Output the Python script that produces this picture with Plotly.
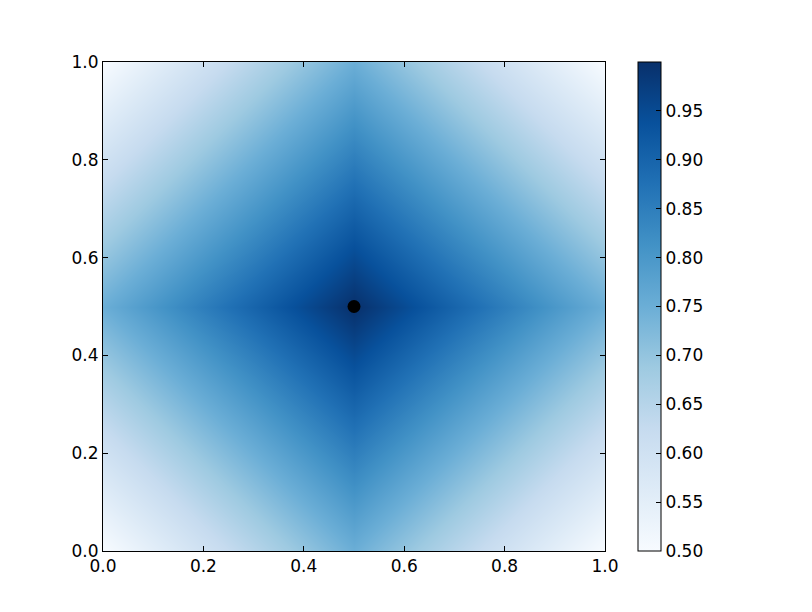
import plotly.graph_objects as go

# grid coordinates
xs = [0.0, 0.1, 0.2, 0.3, 0.4, 0.5, 0.6, 0.7, 0.8, 0.9, 1.0]
ys = [0.0, 0.1, 0.2, 0.3, 0.4, 0.5, 0.6, 0.7, 0.8, 0.9, 1.0]

row_00 = [0.50, 0.55, 0.60, 0.65, 0.70, 0.75, 0.70, 0.65, 0.60, 0.55, 0.50]
row_01 = [0.55, 0.60, 0.65, 0.70, 0.75, 0.80, 0.75, 0.70, 0.65, 0.60, 0.55]
row_02 = [0.60, 0.65, 0.70, 0.75, 0.80, 0.85, 0.80, 0.75, 0.70, 0.65, 0.60]
row_03 = [0.65, 0.70, 0.75, 0.80, 0.85, 0.90, 0.85, 0.80, 0.75, 0.70, 0.65]
row_04 = [0.70, 0.75, 0.80, 0.85, 0.90, 0.95, 0.90, 0.85, 0.80, 0.75, 0.70]
row_05 = [0.75, 0.80, 0.85, 0.90, 0.95, 1.00, 0.95, 0.90, 0.85, 0.80, 0.75]
row_06 = [0.70, 0.75, 0.80, 0.85, 0.90, 0.95, 0.90, 0.85, 0.80, 0.75, 0.70]
row_07 = [0.65, 0.70, 0.75, 0.80, 0.85, 0.90, 0.85, 0.80, 0.75, 0.70, 0.65]
row_08 = [0.60, 0.65, 0.70, 0.75, 0.80, 0.85, 0.80, 0.75, 0.70, 0.65, 0.60]
row_09 = [0.55, 0.60, 0.65, 0.70, 0.75, 0.80, 0.75, 0.70, 0.65, 0.60, 0.55]
row_10 = [0.50, 0.55, 0.60, 0.65, 0.70, 0.75, 0.70, 0.65, 0.60, 0.55, 0.50]
z_rows = [row_00, row_01, row_02, row_03, row_04, row_05,
          row_06, row_07, row_08, row_09, row_10]

# marked point
point_x = [0.5]
point_y = [0.5]

axis_ticks = [0.0, 0.2, 0.4, 0.6, 0.8, 1.0]
axis_ticktext = ["0.0", "0.2", "0.4", "0.6", "0.8", "1.0"]
cbar_ticks = [0.50, 0.55, 0.60, 0.65, 0.70, 0.75, 0.80, 0.85, 0.90, 0.95]
cbar_ticktext = ["0.50", "0.55", "0.60", "0.65", "0.70", "0.75",
                 "0.80", "0.85", "0.90", "0.95"]

blues = [
    [0.0, "#f7fbff"], [0.125, "#deebf7"], [0.25, "#c6dbef"],
    [0.375, "#9ecae1"], [0.5, "#6baed6"], [0.625, "#4292c6"],
    [0.75, "#2171b5"], [0.875, "#08519c"], [1.0, "#08306b"],
]

font = dict(family="DejaVu Sans", size=17, color="black")

fig = go.Figure()
fig.add_trace(go.Heatmap(
    x=xs, y=ys, z=z_rows, zsmooth="best",
    colorscale=blues, zmin=0.5, zmax=1.0,
    colorbar=dict(
        x=(637 - 102) / 502, xanchor="left", xref="paper",
        y=0.5, yanchor="middle", len=1.0, lenmode="fraction",
        thickness=23, thicknessmode="pixels",
        outlinewidth=1, outlinecolor="black",
        tickvals=cbar_ticks, ticktext=cbar_ticktext,
        ticks="inside", ticklen=5, tickcolor="black",
        tickfont=font, xpad=0, ypad=0,
    ),
    hoverinfo="skip",
))
fig.add_trace(go.Scatter(
    x=point_x, y=point_y, mode="markers",
    marker=dict(color="black", size=13),
    showlegend=False,
))

axis_common = dict(
    range=[0, 1], tickvals=axis_ticks, ticktext=axis_ticktext,
    ticks="inside", ticklen=5, tickcolor="black",
    showline=True, linecolor="black", linewidth=1, mirror="ticks",
    showgrid=False, zeroline=False, tickfont=font,
)
fig.update_xaxes(**axis_common)
fig.update_yaxes(**axis_common)
fig.update_layout(
    width=812, height=612,
    margin=dict(l=95, r=215, t=54, b=69, pad=0),
    plot_bgcolor="white", paper_bgcolor="white",
    font=font, showlegend=False,
)
fig.write_html("out.html")
